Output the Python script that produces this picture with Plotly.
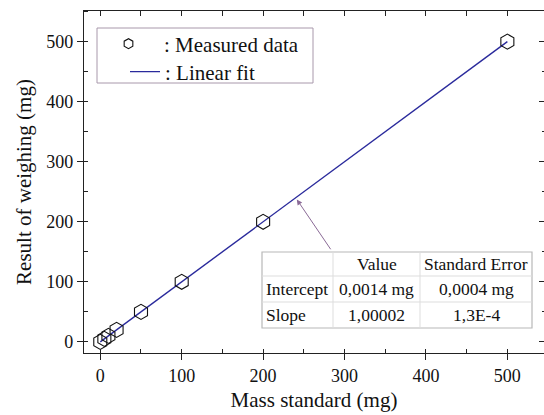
import plotly.graph_objects as go

# ---- data ----
mass_standard = [0, 5, 10, 20, 50, 100, 200, 500]
weighing_result = [0, 5, 10, 20, 50, 100, 200, 500]
fit_intercept = 0.0014
fit_slope = 1.00002
x_ticks = [0, 100, 200, 300, 400, 500]
y_ticks = [0, 100, 200, 300, 400, 500]
table_header = ["", "Value", "Standard Error"]
table_rows = [["Intercept", "0,0014 mg", "0,0004 mg"],
              ["Slope", "1,00002", "1,3E-4"]]

FONT = "Liberation Serif, Times New Roman, Times, DejaVu Serif, serif"
W, H = 544, 415
L, R, T, B = 84, 544, 11, 353
XR = [-20, 545]
YR = [-18.5, 551]


def px(x):
    return (x - L) / (R - L)


def py(y):
    return 1 - (y - T) / (B - T)


fit_x = [min(mass_standard), max(mass_standard)]
fit_y = [fit_intercept + fit_slope * v for v in fit_x]

fig = go.Figure()
fig.add_trace(go.Scatter(x=fit_x, y=fit_y, mode="lines",
                         line=dict(color="#2a2a9c", width=1.4),
                         showlegend=False))
fig.add_trace(go.Scatter(x=mass_standard, y=weighing_result, mode="markers",
                         marker=dict(symbol="hexagon-open", size=15,
                                     color="#111111", line=dict(width=1.1)),
                         showlegend=False))
# legend-only entries
fig.add_trace(go.Scatter(x=[None], y=[None], mode="markers", name=": Measured data",
                         legend="legend",
                         marker=dict(symbol="hexagon-open", size=10, color="#111111",
                                     line=dict(width=1.1))))
fig.add_trace(go.Scatter(x=[None], y=[None], mode="lines", name=": Linear fit",
                         legend="legend2",
                         line=dict(color="#2a2a9c", width=1.4)))
# mirror axes (top / right) with inside ticks
fig.add_trace(go.Scatter(x=[None], y=[None], xaxis="x2", yaxis="y2",
                         showlegend=False, hoverinfo="skip"))

axis_common = dict(showgrid=False, zeroline=False, linecolor="#222222", linewidth=1.4,
                   tickcolor="#222222", tickwidth=1.2, automargin=False,
                   tickfont=dict(family=FONT, size=18, color="#111111"))

legend_common = dict(xanchor="left", yanchor="middle", bgcolor="rgba(0,0,0,0)",
                     borderwidth=0, font=dict(family=FONT, size=21, color="#111111"))

fig.update_layout(
    width=W, height=H,
    margin=dict(l=L, r=W - R, t=T, b=H - B, autoexpand=False),
    paper_bgcolor="white", plot_bgcolor="white",
    font=dict(family=FONT, color="#111111"),
    xaxis=dict(range=XR, tickvals=x_ticks, ticks="outside", ticklen=6,
               minor=dict(dtick=50, tick0=0, ticks="inside", ticklen=4,
                          tickcolor="#222222", tickwidth=1.2),
               title=dict(text="Mass standard (mg)", font=dict(family=FONT, size=21),
                          standoff=7),
               **axis_common),
    yaxis=dict(range=YR, tickvals=y_ticks, ticks="outside", ticklen=6,
               minor=dict(dtick=50, tick0=0, ticks="inside", ticklen=4,
                          tickcolor="#222222", tickwidth=1.2),
               title=dict(text="Result of weighing (mg)", font=dict(family=FONT, size=21),
                          standoff=8),
               **axis_common),
    xaxis2=dict(range=XR, overlaying="x", side="top", dtick=50, tick0=0,
                ticks="inside", ticklen=5, showticklabels=False, showgrid=False,
                zeroline=False, showline=True, linecolor="#222222", linewidth=1.4,
                tickcolor="#222222", tickwidth=1.2, automargin=False),
    yaxis2=dict(range=YR, overlaying="y", side="right", tickvals=y_ticks,
                ticks="inside", ticklen=5, showticklabels=False, showgrid=False,
                zeroline=False, showline=False, tickcolor="#222222", tickwidth=1.2,
                automargin=False,
                minor=dict(dtick=50, tick0=0, ticks="inside", ticklen=2,
                           tickcolor="#222222")),
    legend=dict(x=px(97), y=py(44), itemwidth=61, indentation=-4, **legend_common),
    legend2=dict(x=px(97), y=py(72), itemwidth=30, indentation=28, **legend_common),
    showlegend=True,
)

# legend frame
fig.add_shape(type="rect", xref="paper", yref="paper",
              x0=px(97), x1=px(313), y0=py(83), y1=py(28),
              fillcolor="white", line=dict(color="#a898ab", width=1), layer="above")

# ---- fit results table ----
tx0, tx1 = 262, 532
ty0, ty1 = 252, 328
col_edges = [262, 333, 420, 532]
row_edges = [252, 276, 302, 328]
fig.add_shape(type="rect", xref="paper", yref="paper",
              x0=px(tx0), x1=px(tx1), y0=py(ty1), y1=py(ty0),
              fillcolor="white", line=dict(color="#b8b8b8", width=1.2), layer="above")
for cx in col_edges[1:-1]:
    fig.add_shape(type="line", xref="paper", yref="paper",
                  x0=px(cx), x1=px(cx), y0=py(ty1), y1=py(ty0),
                  line=dict(color="#dddddd", width=1), layer="above")
for ry in row_edges[1:-1]:
    fig.add_shape(type="line", xref="paper", yref="paper",
                  x0=px(tx0), x1=px(tx1), y0=py(ry), y1=py(ry),
                  line=dict(color="#dddddd", width=1), layer="above")

all_rows = [table_header] + table_rows
for ri, row in enumerate(all_rows):
    yc = (row_edges[ri] + row_edges[ri + 1]) / 2
    for ci, txt in enumerate(row):
        if not txt:
            continue
        if ci == 0:
            xpos, anchor = col_edges[0] + 2, "left"
        else:
            xpos, anchor = (col_edges[ci] + col_edges[ci + 1]) / 2, "center"
        fig.add_annotation(x=px(xpos), y=py(yc), xref="paper", yref="paper",
                           text=txt, showarrow=False, xanchor=anchor, yanchor="middle",
                           font=dict(family=FONT, size=17.5, color="#111111"))

# arrow from table to the fit line
fig.add_annotation(x=240, y=fit_intercept + fit_slope * 240, xref="x", yref="y",
                   ax=36, ay=53, axref="pixel", ayref="pixel", text="",
                   showarrow=True, arrowhead=2, arrowsize=1.1, arrowwidth=1,
                   arrowcolor="#8a6a96", standoff=2)

fig.write_html("out.html", config={"displayModeBar": False},
               post_script="document.body.style.margin='0';document.body.style.padding='0';")
